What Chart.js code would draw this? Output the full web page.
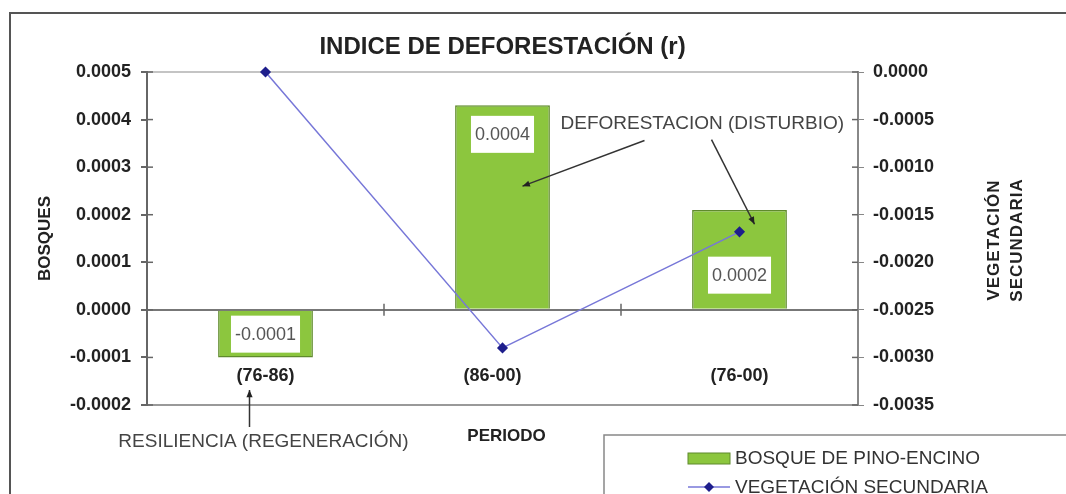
<!DOCTYPE html>
<html>
<head>
<meta charset="utf-8">
<script src="https://cdn.jsdelivr.net/npm/chart.js@4.4.1/dist/chart.umd.min.js"></script>
<style>
  html, body { margin: 0; padding: 0; background: #fff; }
  canvas { display: block; }
</style>
</head>
<body>
<canvas id="chart" width="1066" height="494"></canvas>
<script>
// data
const periods = ["(76-86)", "(86-00)", "(76-00)"];
const bosqueValues = [-0.0001, 0.00043, 0.00021];
const vegetacionValues = [0.0, -0.0029, -0.00168];
const bosqueTicks = [-0.0002, -0.0001, 0.0, 0.0001, 0.0002, 0.0003, 0.0004, 0.0005];
const vegetacionTicks = [-0.0035, -0.003, -0.0025, -0.002, -0.0015, -0.001, -0.0005, 0.0];

const TITLE = "INDICE DE DEFORESTACIÓN (r)";
const FONT = "'Liberation Sans', Arial, sans-serif";
const BAR_GREEN = "#8cc63e";
const BAR_EDGE = "#5f8a2c";

// where the white value boxes sit (in left axis units)
const labelAt = [-0.00005, 0.00037, 0.000074];

function fmt(v) {
  return (Math.abs(v) < 1e-12 ? 0 : v).toFixed(4);
}

function arrow(c, x1, y1, x2, y2) {
  c.beginPath();
  c.moveTo(x1, y1);
  c.lineTo(x2, y2);
  c.stroke();
  const a = Math.atan2(y2 - y1, x2 - x1);
  c.beginPath();
  c.moveTo(x2, y2);
  c.lineTo(x2 - 8 * Math.cos(a - 0.4), y2 - 8 * Math.sin(a - 0.4));
  c.lineTo(x2 - 8 * Math.cos(a + 0.4), y2 - 8 * Math.sin(a + 0.4));
  c.closePath();
  c.fill();
}

const extras = {
  id: "extras",
  beforeDraw(chart) {
    const c = chart.ctx;
    c.save();
    c.fillStyle = "#fff";
    c.fillRect(0, 0, chart.width, chart.height);
    c.restore();
  },
  afterDraw(chart) {
    const c = chart.ctx;
    const x = chart.scales.x, y = chart.scales.y, y1 = chart.scales.y1;
    const area = chart.chartArea;
    c.save();

    // outer frame (runs off the picture on the right and bottom)
    c.strokeStyle = "#555";
    c.lineWidth = 2;
    c.strokeRect(10, 13, 1100, 520);

    // title
    c.fillStyle = "#222";
    c.font = "bold 24px " + FONT;
    c.textAlign = "center";
    c.textBaseline = "middle";
    c.fillText(TITLE, (area.left + area.right) / 2, 47);

    // axis titles
    c.font = "bold 17px " + FONT;
    c.save();
    c.translate(45, (area.top + area.bottom) / 2);
    c.rotate(-Math.PI / 2);
    c.fillText("BOSQUES", 0, 0);
    c.restore();
    c.save();
    c.translate(994, 240);
    c.rotate(-Math.PI / 2);
    c.letterSpacing = "1px";
    c.fillText("VEGETACIÓN", 0, 0);
    c.fillText("SECUNDARIA", 0, 23);
    c.restore();
    c.fillText("PERIODO", (area.left + area.right) / 2 + 4, area.bottom + 31);

    // tick marks crossing the axes
    c.strokeStyle = "#666";
    c.lineWidth = 1.5;
    y.ticks.forEach(t => {
      const py = y.getPixelForValue(t.value);
      c.beginPath(); c.moveTo(area.left, py); c.lineTo(area.left + 6, py); c.stroke();
    });
    y1.ticks.forEach(t => {
      const py = y1.getPixelForValue(t.value);
      c.beginPath(); c.moveTo(area.right - 6, py); c.lineTo(area.right, py); c.stroke();
    });
    const y0 = y.getPixelForValue(0);
    for (let i = 0; i < periods.length - 1; i++) {
      const px = (x.getPixelForValue(i) + x.getPixelForValue(i + 1)) / 2;
      c.beginPath(); c.moveTo(px, y0 - 6); c.lineTo(px, y0 + 6); c.stroke();
    }

    // category labels inside the plot
    c.fillStyle = "#222";
    c.font = "bold 18px " + FONT;
    periods.forEach((p, i) => {
      c.fillText(p, x.getPixelForValue(i) - (i === 1 ? 10 : 0), y.getPixelForValue(-0.000139));
    });

    // value boxes
    c.font = "18px " + FONT;
    const bars = chart.getDatasetMeta(0).data;
    bosqueValues.forEach((v, i) => {
      const txt = fmt(v);
      const w = c.measureText(txt).width + 8;
      const cx = bars[i].x, cy = y.getPixelForValue(labelAt[i]);
      c.fillStyle = "#fff";
      c.fillRect(cx - w / 2, cy - 18, w, 37);
      c.fillStyle = "#555";
      c.fillText(txt, cx, cy + 1);
    });

    // annotations
    c.fillStyle = "#444";
    c.strokeStyle = "#333";
    c.lineWidth = 1.5;
    c.font = "19px " + FONT;
    c.textAlign = "left";
    const tx = x.getPixelForValue(1) + 58;
    const ty = y.getPixelForValue(0.0004) + 4;
    c.fillText("DEFORESTACION (DISTURBIO)", tx, ty);
    c.fillStyle = "#222";
    arrow(c, tx + 84, ty + 17, bars[1].x + 20, y.getPixelForValue(0.00026));
    arrow(c, tx + 151, ty + 16, bars[2].x + 15, y.getPixelForValue(0.00018));

    c.fillStyle = "#444";
    c.textAlign = "center";
    c.fillText("RESILIENCIA (REGENERACIÓN)", x.getPixelForValue(0) - 2, area.bottom + 37);
    c.fillStyle = "#222";
    arrow(c, x.getPixelForValue(0) - 16, area.bottom + 22, x.getPixelForValue(0) - 16, area.bottom - 15);

    // legend
    c.strokeStyle = "#888";
    c.lineWidth = 1.5;
    c.strokeRect(604, 435, 520, 100);
    const ds = chart.data.datasets;
    c.textAlign = "left";
    c.font = "19px " + FONT;
    c.fillStyle = ds[0].backgroundColor;
    c.fillRect(688, 453, 42, 11);
    c.strokeStyle = ds[0].borderColor;
    c.lineWidth = 1;
    c.strokeRect(688, 453, 42, 11);
    c.fillStyle = "#333";
    c.fillText(ds[0].label, 735, 459);
    c.strokeStyle = ds[1].borderColor;
    c.lineWidth = 1.5;
    c.beginPath(); c.moveTo(688, 487); c.lineTo(730, 487); c.stroke();
    c.fillStyle = ds[1].pointBackgroundColor;
    c.beginPath();
    c.moveTo(709, 482); c.lineTo(714, 487); c.lineTo(709, 492); c.lineTo(704, 487);
    c.closePath(); c.fill();
    c.fillStyle = "#333";
    c.fillText(ds[1].label, 735, 488);

    c.restore();
  }
};

new Chart(document.getElementById("chart"), {
  data: {
    labels: periods,
    datasets: [
      {
        type: "bar",
        label: "BOSQUE DE PINO-ENCINO",
        data: bosqueValues,
        yAxisID: "y",
        backgroundColor: BAR_GREEN,
        borderColor: BAR_EDGE,
        borderWidth: 1.5,
        categoryPercentage: 1,
        barPercentage: 0.4,
        order: 2
      },
      {
        type: "line",
        label: "VEGETACIÓN SECUNDARIA",
        data: vegetacionValues,
        yAxisID: "y1",
        borderColor: "#7777d8",
        borderWidth: 1.5,
        pointStyle: "rectRot",
        pointRadius: 4.5,
        pointBackgroundColor: "#1e1e8c",
        pointBorderColor: "#1e1e8c",
        tension: 0,
        clip: false,
        order: 1
      }
    ]
  },
  options: {
    responsive: false,
    animation: false,
    layout: { padding: { left: 0, right: 0, top: 72, bottom: 89 } },
    plugins: {
      legend: { display: false },
      tooltip: { enabled: false },
      title: { display: false }
    },
    scales: {
      x: { display: false, offset: true },
      y: {
        position: "left",
        min: bosqueTicks[0],
        max: bosqueTicks[bosqueTicks.length - 1],
        afterBuildTicks: s => { s.ticks = bosqueTicks.map(v => ({ value: v })); },
        afterFit: s => { s.width = 147; },
        border: { color: "#666", width: 2 },
        grid: {
          color: ctx => {
            const v = ctx.tick ? ctx.tick.value : null;
            if (v === null) return "rgba(0,0,0,0)";
            if (Math.abs(v) < 1e-12) return "#777";
            if (Math.abs(v - 0.0005) < 1e-9) return "#c4c4c4";
            if (Math.abs(v + 0.0002) < 1e-9) return "#999";
            return "rgba(0,0,0,0)";
          },
          lineWidth: 2,
          tickColor: "#666",
          tickLength: 6
        },
        ticks: {
          color: "#222",
          font: { family: FONT, size: 18, weight: "bold" },
          padding: 10,
          callback: v => fmt(v)
        }
      },
      y1: {
        position: "right",
        min: vegetacionTicks[0],
        max: vegetacionTicks[vegetacionTicks.length - 1],
        afterBuildTicks: s => { s.ticks = vegetacionTicks.map(v => ({ value: v })); },
        afterFit: s => { s.width = 208; },
        border: { color: "#888", width: 2 },
        grid: { drawOnChartArea: false, tickColor: "#888", tickLength: 6 },
        ticks: {
          color: "#222",
          font: { family: FONT, size: 18, weight: "bold" },
          padding: 9,
          callback: v => fmt(v)
        }
      }
    }
  },
  plugins: [extras]
});
</script>
</body>
</html>
